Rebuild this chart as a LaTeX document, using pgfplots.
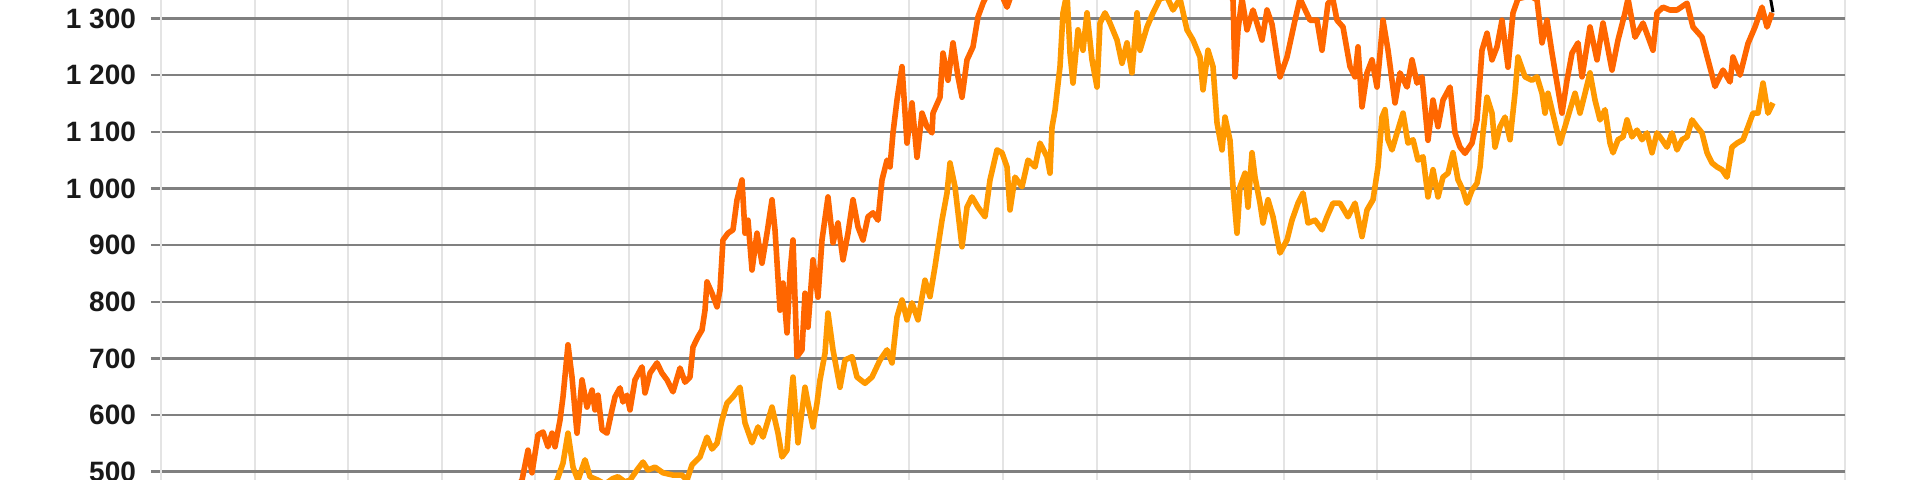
\documentclass[border=0pt]{standalone}
\usepackage{fontspec}
\setmainfont{Liberation Sans}
\usepackage{pgfplots}
\pgfplotsset{compat=1.18}
\definecolor{darkor}{HTML}{FF6600}
\definecolor{lightor}{HTML}{FF9900}
\definecolor{hgrid}{HTML}{808080}
\definecolor{vgrid}{HTML}{E4E4E4}
\definecolor{axisgray}{HTML}{6E6E6E}

\begin{document}
\begin{tikzpicture}
\path[use as bounding box] (-80.5bp,0) rectangle (879.5bp,240bp);
\begin{axis}[
    at={(0,0)}, anchor=south west,
    scale only axis, width=842bp, height=240bp,
    xmin=161, xmax=1845, ymin=485.3, ymax=1332.7,
    axis line style={draw=none},
    xtick={161,254.56,...,1846}, xticklabels={},
    x tick style={draw=none},
    ytick={500,600,...,1300},
    yticklabels={500,600,700,800,900,1 000,1 100,1 200,1 300},
    ytick pos=left, tick align=outside, major tick length=5bp,
    y tick style={hgrid, line width=1.2bp},
    xmajorgrids, ymajorgrids,
    x grid style={vgrid, line width=1bp},
    y grid style={hgrid, line width=1.2bp},
    extra x ticks={161}, extra x tick labels={},
    extra x tick style={grid style={axisgray, line width=1.2bp}},
    yticklabel style={font=\bfseries\fontsize{14bp}{16bp}\selectfont,
        text=black!90, xshift=-4bp},
    line join=round,
]
% lighter series
\addplot[lightor, line width=2.8bp] coordinates {
(550,470) (557,485) (563,515) (568,568) (573,508) (578,485) (585,521) (590,491)
(598,485) (605,478) (613,488) (618,491) (625,482) (630,485) (637,503) (643,517)
(648,503) (655,508) (663,498) (673,494) (682,494) (687,485) (692,512) (700,526)
(707,561) (712,540) (717,550) (722,591) (727,621) (733,632) (740,649) (745,586)
(752,551) (758,579) (763,561) (772,614) (778,568) (782,526) (787,538) (790,609)
(793,667) (798,551) (805,649) (808,621) (813,579) (817,621) (820,662) (825,709)
(828,780) (833,715) (840,649) (845,697) (852,703) (857,667) (865,656) (872,667)
(880,697) (887,715) (892,692) (897,773) (902,803) (907,768) (912,798) (918,768)
(925,838) (930,809) (935,862) (942,944) (947,992) (950,1045) (955,1003) (962,897)
(967,967) (972,985) (978,967) (985,950) (990,1015) (997,1068) (1002,1063) (1007,1038)
(1010,962) (1015,1020) (1022,1003) (1028,1050) (1035,1038) (1040,1080) (1047,1056) (1050,1027)
(1052,1108) (1055,1138) (1060,1215) (1063,1310) (1067,1345) (1070,1239) (1073,1186) (1078,1280)
(1083,1244) (1087,1310) (1092,1227) (1097,1179) (1100,1292) (1105,1310) (1110,1292) (1117,1262)
(1122,1221) (1127,1257) (1132,1204) (1137,1310) (1140,1244) (1147,1285) (1153,1310) (1160,1335)
(1167,1338) (1173,1315) (1180,1335) (1187,1280) (1193,1262) (1200,1232) (1203,1174) (1208,1244)
(1213,1215) (1217,1116) (1222,1068) (1225,1126) (1230,1085) (1233,1003) (1237,921) (1240,1003)
(1245,1027) (1248,967) (1252,1063) (1255,1020) (1260,974) (1263,939) (1268,980) (1273,950)
(1280,886) (1287,909) (1292,944) (1298,974) (1303,992) (1308,939) (1315,944) (1322,927)
(1327,950) (1333,974) (1340,974) (1348,950) (1355,974) (1362,915) (1367,962) (1373,980)
(1378,1038) (1382,1126) (1385,1139) (1388,1086) (1392,1068) (1397,1098) (1403,1133) (1408,1080)
(1413,1086) (1418,1050) (1423,1056) (1428,985) (1433,1033) (1438,985) (1443,1020) (1448,1027)
(1453,1063) (1458,1015) (1463,997) (1467,974) (1472,997) (1477,1009) (1480,1038) (1483,1098)
(1487,1161) (1492,1133) (1495,1073) (1500,1109) (1505,1126) (1510,1086) (1515,1168) (1518,1232)
(1525,1197) (1532,1191) (1537,1197) (1542,1168) (1545,1133) (1548,1168) (1555,1116) (1560,1080)
(1565,1109) (1570,1139) (1575,1168) (1580,1133) (1585,1168) (1590,1204) (1595,1156) (1600,1121)
(1605,1139) (1610,1080) (1613,1063) (1618,1086) (1623,1091) (1627,1121) (1632,1091) (1637,1103)
(1642,1086) (1647,1098) (1652,1063) (1657,1098) (1662,1086) (1667,1073) (1672,1098) (1677,1068)
(1682,1086) (1687,1091) (1692,1121) (1697,1109) (1702,1098) (1707,1063) (1712,1045) (1717,1038)
(1722,1033) (1727,1020) (1732,1073) (1737,1080) (1743,1086) (1748,1109) (1753,1133) (1758,1133)
(1763,1186) (1768,1133) (1773,1151)
};
% darker series
\addplot[darkor, line width=2.8bp] coordinates {
(515,470) (522,485) (528,538) (532,498) (538,565) (543,570) (548,544) (552,568)
(555,544) (560,591) (563,632) (568,724) (572,667) (577,568) (582,662) (587,614)
(592,644) (595,609) (598,635) (602,574) (607,568) (612,609) (615,632) (620,648)
(623,623) (627,635) (630,609) (635,662) (642,685) (645,639) (650,674) (657,692)
(662,674) (667,662) (673,641) (680,683) (685,658) (690,667) (693,720) (698,738)
(702,750) (705,785) (707,835) (712,815) (717,791) (720,821) (723,909) (728,921)
(733,927) (737,980) (742,1015) (745,921) (748,944) (752,856) (757,921) (762,868)
(767,921) (772,980) (775,927) (780,785) (783,833) (787,745) (790,851) (793,909)
(797,703) (802,715) (805,815) (808,755) (813,874) (818,808) (822,909) (828,985)
(833,904) (838,939) (843,874) (848,921) (853,980) (858,932) (863,909) (868,950)
(873,957) (878,944) (882,1015) (887,1050) (890,1038) (893,1098) (897,1156) (902,1215)
(907,1080) (912,1151) (917,1055) (922,1133) (927,1109) (932,1098) (933,1133) (940,1161)
(943,1239) (948,1191) (953,1257) (958,1197) (962,1161) (967,1227) (973,1250) (978,1303)
(983,1327) (988,1345) (995,1350) (1002,1340) (1007,1320) (1012,1345) (1030,1380) (1060,1420)
(1090,1400) (1120,1440) (1150,1420) (1180,1400) (1210,1380) (1228,1345) (1233,1333) (1235,1197)
(1238,1280) (1242,1335) (1247,1280) (1253,1315) (1262,1262) (1267,1315) (1272,1290) (1280,1197)
(1287,1232) (1295,1297) (1300,1335) (1310,1297) (1317,1297) (1322,1244) (1328,1327) (1333,1333)
(1337,1297) (1343,1285) (1350,1215) (1355,1197) (1358,1250) (1362,1144) (1367,1204) (1372,1227)
(1377,1179) (1383,1297) (1388,1244) (1395,1151) (1400,1204) (1407,1179) (1412,1227) (1417,1186)
(1422,1197) (1428,1085) (1433,1156) (1438,1109) (1443,1156) (1450,1179) (1455,1098) (1460,1073)
(1465,1062) (1472,1080) (1477,1121) (1482,1244) (1487,1274) (1492,1227) (1497,1250) (1502,1297)
(1508,1214) (1513,1310) (1518,1335) (1530,1340) (1537,1333) (1542,1257) (1547,1297) (1552,1239)
(1557,1186) (1562,1133) (1567,1191) (1572,1239) (1578,1257) (1582,1197) (1590,1285) (1597,1227)
(1603,1292) (1612,1209) (1618,1262) (1625,1310) (1628,1335) (1635,1267) (1643,1292) (1653,1244)
(1657,1310) (1663,1320) (1670,1315) (1677,1315) (1687,1327) (1693,1285) (1702,1267) (1708,1227)
(1715,1180) (1723,1209) (1730,1188) (1733,1232) (1740,1200) (1748,1256) (1755,1285) (1762,1320)
(1767,1285) (1772,1310)
};
% third series, only its last dip shows below the top edge
\addplot[black, line width=1.5bp] coordinates {(1768,1360) (1773,1311)};
\end{axis}
\end{tikzpicture}
\end{document}
